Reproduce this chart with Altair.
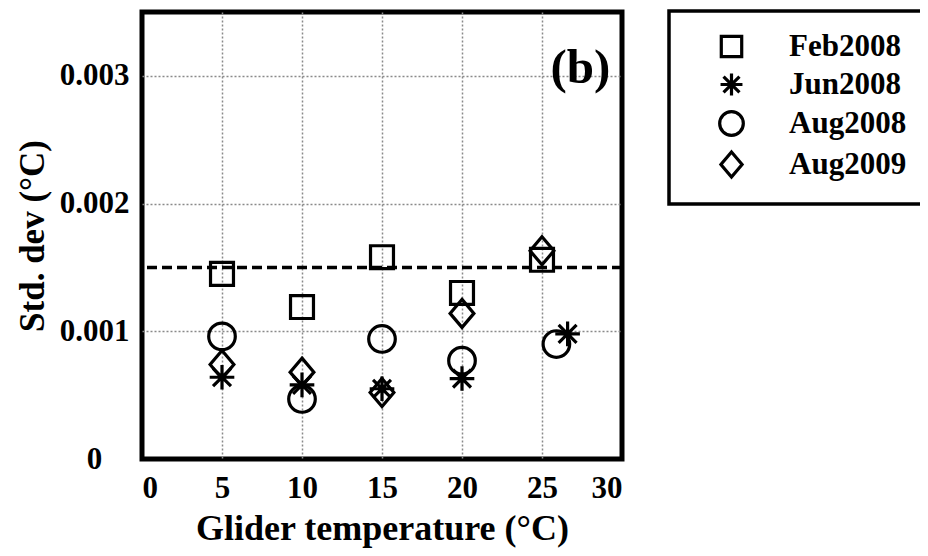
import altair as alt
import pandas as pd

series_names = ["Feb2008", "Jun2008", "Aug2008", "Aug2009"]

temps_feb2008 = [5, 10, 15, 20, 25]
std_feb2008 = [0.00145, 0.00119, 0.00158, 0.00130, 0.00156]

temps_jun2008 = [5, 10, 15, 20, 26.6]
std_jun2008 = [0.00064, 0.00058, 0.00055, 0.00063, 0.00098]

temps_aug2008 = [5, 10, 15, 20, 25.9]
std_aug2008 = [0.00096, 0.00047, 0.00094, 0.00077, 0.00090]

temps_aug2009 = [5, 10, 15, 20, 25]
std_aug2009 = [0.00074, 0.00068, 0.00052, 0.00114, 0.00163]

reference_level = [0.0015]
x_ticks = [0, 5, 10, 15, 20, 25, 30]
y_ticks = [0, 0.001, 0.002, 0.003]

rows = []
for name, xs, ys in [
    ("Feb2008", temps_feb2008, std_feb2008),
    ("Jun2008", temps_jun2008, std_jun2008),
    ("Aug2008", temps_aug2008, std_aug2008),
    ("Aug2009", temps_aug2009, std_aug2009),
]:
    for xv, yv in zip(xs, ys):
        rows.append({"series": name, "temp": xv, "std": yv})
df = pd.DataFrame(rows)

square = "M-0.82,-0.82L0.82,-0.82L0.82,0.82L-0.82,0.82Z"
asterisk = ("M0,-0.88L0,0.88M-0.88,0L0.88,0"
            "M-0.64,-0.64L0.64,0.64M-0.64,0.64L0.64,-0.64")
circle = "M-0.95,0A0.95,0.95 0 1,0 0.95,0A0.95,0.95 0 1,0 -0.95,0Z"
diamond = "M0,-1L0.85,0L0,1L-0.85,0Z"

FONT = "Liberation Serif"

x_enc = alt.X(
    "temp:Q",
    scale=alt.Scale(domain=[0, 30], nice=False, zero=False),
    axis=alt.Axis(
        values=x_ticks,
        title="Glider temperature (°C)",
        gridOpacity={"condition": {"test": "datum.value === 0 || datum.value === 30", "value": 0}, "value": 1},
    ),
)
y_enc = alt.Y(
    "std:Q",
    scale=alt.Scale(domain=[0, 0.0035], nice=False),
    axis=alt.Axis(
        values=y_ticks,
        title="Std. dev (°C)",
        labelExpr="datum.value == 0 ? '0' : format(datum.value, '.3f')",
        labelAlign="center",
        labelBaseline="middle",
        gridOpacity={"condition": {"test": "datum.value === 0", "value": 0}, "value": 1},
    ),
)

points = alt.Chart(df).mark_point(
    filled=False, stroke="black", strokeWidth=3.2, size=784, opacity=1
).encode(
    x=x_enc,
    y=y_enc,
    shape=alt.Shape(
        "series:N",
        scale=alt.Scale(domain=series_names, range=[square, asterisk, circle, diamond]),
        legend=alt.Legend(
            title=None,
            orient="none",
            legendX=527,
            legendY=-1,
            strokeColor="black",
            padding=20,
            symbolOffset=27,
            symbolSize=620,
            symbolStrokeWidth=3.2,
            symbolStrokeColor="black",
            symbolFillColor="transparent",
            labelFont=FONT,
            labelFontSize=31,
            labelFontWeight="bold",
            labelColor="black",
            labelOffset=42,
            rowPadding=3,
            labelLimit=300,
        ),
    ),
)

ref_df = pd.DataFrame({"level": reference_level})
ref_line = alt.Chart(ref_df).mark_rule(
    color="black", strokeWidth=3.5, strokeDash=[10, 5]
).encode(y=alt.Y("level:Q", scale=alt.Scale(domain=[0, 0.0035], nice=False)))

label_df = pd.DataFrame({"temp": [27.4], "std": [0.00306], "txt": ["(b)"]})
panel_label = alt.Chart(label_df).mark_text(
    font=FONT, fontSize=49, fontWeight="bold", color="black"
).encode(x="temp:Q", y="std:Q", text="txt:N")

chart = alt.layer(ref_line, points, panel_label).properties(
    width=480,
    height=447,
    autosize=alt.AutoSizeParams(type="none"),
    padding={"left": 134, "top": 4, "right": 298, "bottom": 89},
).configure_view(
    stroke="black", strokeWidth=5
).configure_axis(
    domain=False,
    ticks=False,
    grid=True,
    gridColor="#8a8a8a",
    gridDash=[2, 2],
    gridWidth=1.5,
    labelFont=FONT,
    labelFontSize=31,
    labelFontWeight="bold",
    labelColor="black",
    titleFont=FONT,
    titleFontSize=36,
    titleFontWeight="bold",
    titleColor="black",
).configure_axisX(
    labelPadding=14, titlePadding=8
).configure_axisY(
    labelPadding=48, titlePadding=9, titleFontSize=35
).configure_legend(
    strokeWidth=3.5
)

chart.save("out.html", embed_options={"renderer": "svg", "actions": False})
